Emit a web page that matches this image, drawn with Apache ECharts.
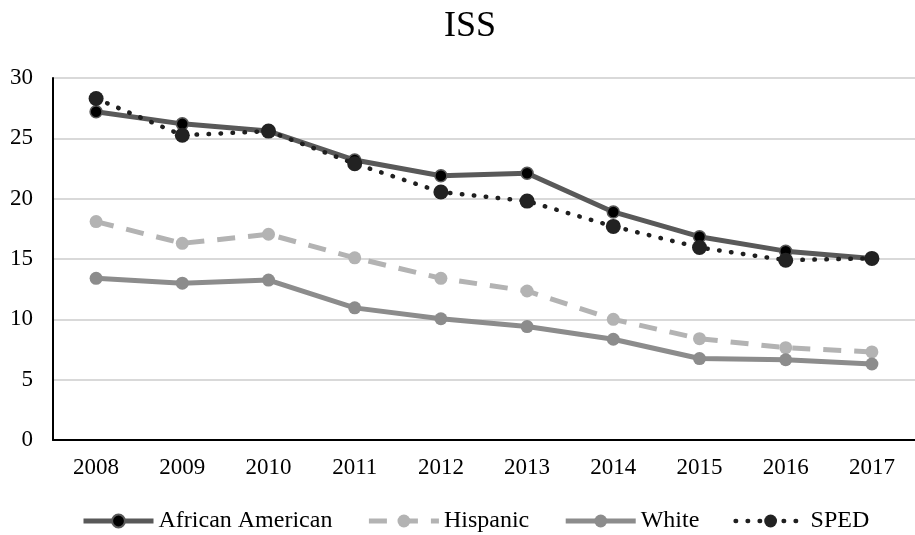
<!DOCTYPE html>
<html>
<head>
<meta charset="utf-8">
<script src="https://cdn.jsdelivr.net/npm/echarts@6/dist/echarts.min.js"></script>
<style>
  html, body { margin: 0; padding: 0; background: #fff; }
  #chart { width: 915px; height: 535px; }
</style>
</head>
<body>
<div id="chart"></div>
<script>
// ISS rates by student group, 2008–2017
const years = ['2008', '2009', '2010', '2011', '2012', '2013', '2014', '2015', '2016', '2017'];
const africanAmerican = [27.2, 26.2, 25.6, 23.2, 21.9, 22.1, 18.9, 16.85, 15.65, 15.05];
const hispanic = [18.1, 16.3, 17.05, 15.1, 13.4, 12.35, 10.0, 8.4, 7.65, 7.3];
const white = [13.4, 13.0, 13.25, 10.95, 10.05, 9.4, 8.35, 6.75, 6.65, 6.3];
const sped = [28.3, 25.25, 25.6, 22.9, 20.55, 19.8, 17.7, 15.95, 14.9, 15.05];
const yTicks = [0, 5, 10, 15, 20, 25, 30];

const serif = '"Liberation Serif", "Times New Roman", serif';

const chart = echarts.init(document.getElementById('chart'), null, { renderer: 'canvas' });

chart.setOption({
  animation: false,
  backgroundColor: '#ffffff',
  title: {
    text: 'ISS',
    left: 439,
    top: 4,
    textStyle: { fontFamily: serif, fontSize: 36, fontWeight: 'normal', color: '#000' }
  },
  grid: { left: 53, right: -8, top: 78, bottom: 95 },
  legend: {
    bottom: -3,
    left: 76,
    itemWidth: 70,
    itemHeight: 16,
    itemGap: 34,
    lineStyle: { width: 'inherit' },
    textStyle: { fontFamily: serif, fontSize: 24, color: '#000' },
    data: ['African American', 'Hispanic', 'White', 'SPED']
  },
  xAxis: {
    type: 'category',
    data: years,
    boundaryGap: true,
    axisLine: { lineStyle: { color: '#000', width: 2 } },
    axisTick: { show: false },
    axisLabel: { fontFamily: serif, fontSize: 23, color: '#000', margin: 16 }
  },
  yAxis: {
    type: 'value',
    min: yTicks[0],
    max: yTicks[yTicks.length - 1],
    interval: 5,
    axisLine: { show: true, lineStyle: { color: '#000', width: 2 } },
    axisTick: { show: false },
    splitLine: { lineStyle: { color: '#d9d9d9', width: 2 } },
    axisLabel: { fontFamily: serif, fontSize: 23, color: '#000', margin: 20 }
  },
  series: [
    {
      name: 'Hispanic',
      type: 'line',
      data: hispanic,
      symbol: 'circle',
      symbolSize: 13,
      z: 2,
      lineStyle: { color: '#b3b3b3', width: 5, type: [18, 13] },
      itemStyle: { color: '#b3b3b3' }
    },
    {
      name: 'White',
      type: 'line',
      data: white,
      symbol: 'circle',
      symbolSize: 13,
      z: 2,
      lineStyle: { color: '#8c8c8c', width: 5 },
      itemStyle: { color: '#8c8c8c' }
    },
    {
      name: 'African American',
      type: 'line',
      data: africanAmerican,
      symbol: 'circle',
      symbolSize: 12,
      z: 3,
      lineStyle: { color: '#595959', width: 5 },
      itemStyle: { color: '#000000', borderColor: '#595959', borderWidth: 1.5 }
    },
    {
      name: 'SPED',
      type: 'line',
      data: sped,
      symbol: 'circle',
      symbolSize: 15,
      z: 4,
      lineStyle: { color: '#1f1f1f', width: 4.5, type: [0.5, 11.5], cap: 'round' },
      itemStyle: { color: '#222222' }
    }
  ]
});
</script>
</body>
</html>
